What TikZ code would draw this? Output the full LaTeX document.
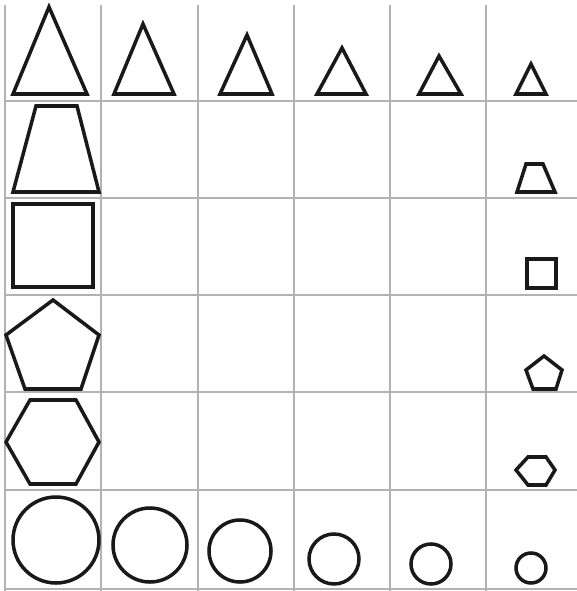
\documentclass[tikz,border=0pt]{standalone}
\usepackage{tikz}
\usetikzlibrary{positioning}

\begin{document}
\begin{tikzpicture}[x=0.02cm,y=-0.02cm,
    grd/.style={draw=black!30,line width=0.8pt},
    shp/.style={draw=black!90,line width=2pt,line join=miter}]
  \useasboundingbox (0,0) rectangle (577,591);
  % grid
  \foreach \gx in {5,101,198,294,390,486}
    \draw[grd] (\gx,5)--(\gx,591);
  \foreach \gy in {101,198,295,392,490,589}
    \draw[grd] (5,\gy)--(577,\gy);
  % triangles
  \draw[shp] (49,7)--(13,94)--(87,94)--cycle;
  \draw[shp] (143,24)--(114,94)--(174,94)--cycle;
  \draw[shp] (247,35)--(220,94)--(272,94)--cycle;
  \draw[shp] (342,48)--(317,94)--(366,94)--cycle;
  \draw[shp] (439,56)--(419,94)--(461,94)--cycle;
  \draw[shp] (531,64)--(516,94)--(546,94)--cycle;
  % trapezoids
  \draw[shp] (36,106)--(77,106)--(99,192)--(13,192)--cycle;
  \draw[shp] (526,164)--(543,164)--(555,192)--(517,192)--cycle;
  % squares
  \draw[shp] (13,204) rectangle (93,287);
  \draw[shp] (527,259) rectangle (556,288);
  % pentagons
  \draw[shp] (53,300)--(99,335)--(81,389)--(25,389)--(6,335)--cycle;
  \draw[shp] (544,356)--(562,370)--(556,389)--(533,389)--(526,370)--cycle;
  % hexagons
  \draw[shp] (30,400)--(76,400)--(99,442)--(76,484)--(30,484)--(6,442)--cycle;
  \draw[shp] (528,457)--(546,457)--(555,470)--(546,485)--(528,485)--(516,470)--cycle;
  % circles
  \draw[shp] (56,540) circle (43);
  \draw[shp] (150,545) circle (37);
  \draw[shp] (240,551) circle (31);
  \draw[shp] (334,559) circle (25);
  \draw[shp] (431,564) circle (20);
  \draw[shp] (531,568) circle (15);
\end{tikzpicture}
\end{document}
